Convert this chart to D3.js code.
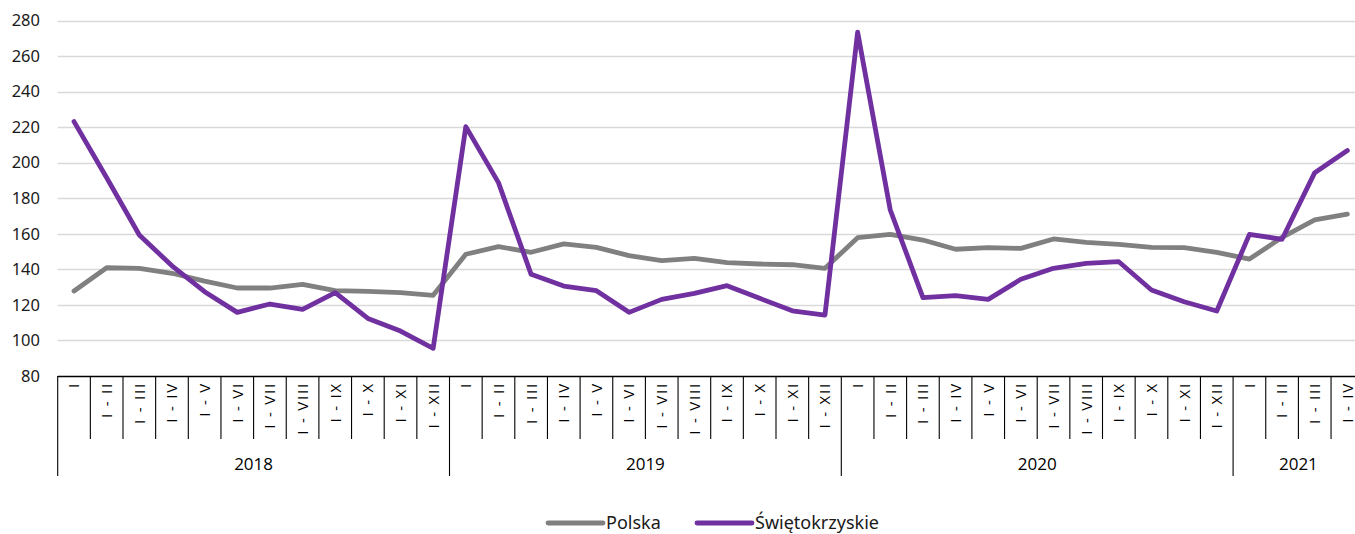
<!DOCTYPE html>
<html><head><meta charset="utf-8">
<script src="https://cdn.jsdelivr.net/npm/d3@7"></script>
<style>
html,body{margin:0;padding:0;background:#fff;}
svg{display:block;font-family:"Noto Sans",sans-serif;}
</style></head>
<body><div id="chart"></div>
<script>
const years = ["2018","2019","2020","2021"];
const monthsPerYear = [12,12,12,4];
const monthLabels = ["I","I - II","I - III","I - IV","I - V","I - VI","I - VII","I - VIII","I - IX","I - X","I - XI","I - XII"];
const polska = [127.8,140.9,140.6,137.8,133.4,129.5,129.5,131.6,128.0,127.6,126.9,125.4,
  148.5,152.8,149.6,154.3,152.4,147.7,144.9,146.2,143.8,143.0,142.6,140.6,
  157.8,159.7,156.5,151.3,152.2,151.8,157.1,155.2,154.1,152.4,152.2,149.6,
  145.8,158.0,167.8,171.1];
const swietokrzyskie = [223.1,191.5,159.3,142.0,127.4,115.8,120.5,117.5,126.9,112.4,105.3,95.6,
  220.3,188.8,137.2,130.6,128.0,115.8,123.1,126.5,130.8,123.7,116.7,114.3,
  273.4,173.4,124.1,125.2,123.1,134.4,140.6,143.4,144.3,128.4,121.8,116.6,
  159.7,156.9,194.4,206.8];
const yTicks = [80,100,120,140,160,180,200,220,240,260,280];
const seriesNames = ["Polska","Świętokrzyskie"];
const seriesColors = ["#808080","#7030a0"];

const W = 1355, H = 534;
const svg = d3.select("#chart").append("svg").attr("width",W).attr("height",H);

// categories
const cats = [];
years.forEach((y,yi)=>{ for(let m=0;m<monthsPerYear[yi];m++) cats.push({year:y, label:monthLabels[m], key:y+"-"+m}); });

const x = d3.scaleBand().domain(cats.map(c=>c.key)).range([57.7,1363.7]).paddingInner(0).paddingOuter(0);
const y = d3.scaleLinear().domain([80,280]).range([376,20.5]);

// gridlines
svg.append("g").selectAll("line").data(yTicks.filter(t=>t>80)).join("line")
  .attr("x1",57.7).attr("x2",1363.7)
  .attr("y1",d=>Math.round(y(d))+0.5).attr("y2",d=>Math.round(y(d))+0.5)
  .attr("stroke","#d9d9d9").attr("stroke-width",1.3);

// y axis labels
const yAxis = d3.axisLeft(y).tickValues(yTicks).tickSize(0).tickPadding(0);
const ga = svg.append("g").attr("transform","translate(40,0)").call(yAxis);
ga.select(".domain").remove();
ga.selectAll("text").attr("font-size",16.5).attr("fill","#1a1a1a").attr("font-family","Noto Sans, sans-serif");

// x axis line
svg.append("line").attr("x1",57.7).attr("x2",1363.7).attr("y1",376.5).attr("y2",376.5)
  .attr("stroke","#000").attr("stroke-width",1.5);

// month ticks
const gx = svg.append("g");
cats.forEach((c,i)=>{
  const x0 = x(c.key);
  const isYearStart = i===0 || cats[i-1].year!==c.year;
  gx.append("line").attr("x1",x0).attr("x2",x0).attr("y1",376).attr("y2",isYearStart?476:439)
    .attr("stroke","#000").attr("stroke-width",1.1);
  gx.append("text")
    .attr("transform",`translate(${x0+x.bandwidth()/2},382) rotate(-90)`)
    .attr("text-anchor","end").attr("dy","0.36em")
    .attr("font-size",15).attr("letter-spacing",1.8).attr("font-family","Open Sans, sans-serif")
    .attr("fill","#000").text(c.label);
});
gx.append("line").attr("x1",1363.7).attr("x2",1363.7).attr("y1",376).attr("y2",476).attr("stroke","#000").attr("stroke-width",1.1);

// year labels
years.forEach((yr,yi)=>{
  const keys = cats.filter(c=>c.year===yr).map(c=>c.key);
  const x0 = x(keys[0]), x1 = x(keys[keys.length-1])+x.bandwidth();
  svg.append("text").attr("x",(x0+x1)/2).attr("y",470).attr("text-anchor","middle")
    .attr("font-size",17).attr("font-family","Open Sans, sans-serif").attr("fill","#000").text(yr);
});

// lines
const line = d3.line().x((d,i)=>x(cats[i].key)+x.bandwidth()/2).y(d=>y(d));
[polska, swietokrzyskie].forEach((s,si)=>{
  svg.append("path").datum(s).attr("d",line).attr("fill","none")
    .attr("stroke",seriesColors[si]).attr("stroke-width",4.8)
    .attr("stroke-linejoin","round").attr("stroke-linecap","round");
});

// legend
const legendItems = [{x:548},{x:697}];
seriesNames.forEach((n,i)=>{
  const lx = legendItems[i].x;
  svg.append("line").attr("x1",lx).attr("x2",lx+55).attr("y1",523).attr("y2",523)
    .attr("stroke",seriesColors[i]).attr("stroke-width",4.8).attr("stroke-linecap","round");
  svg.append("text").attr("x",lx+58).attr("y",529).attr("font-size",18)
    .attr("fill","#1a1a1a").text(n);
});
</script></body></html>
